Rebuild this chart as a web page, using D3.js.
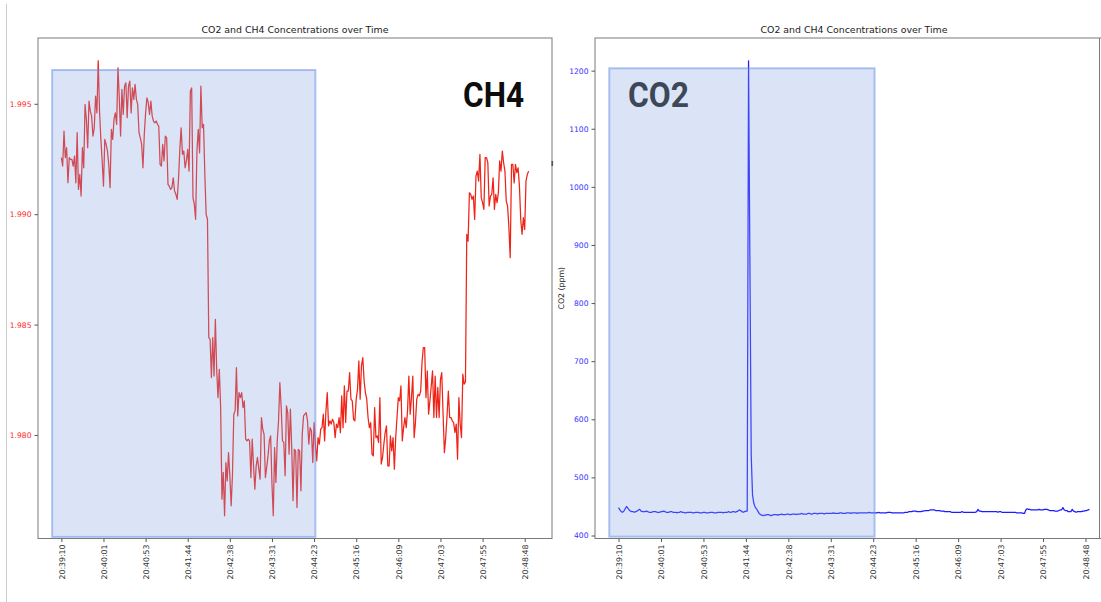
<!DOCTYPE html>
<html>
<head>
<meta charset="utf-8">
<script src="https://cdn.jsdelivr.net/npm/d3@7"></script>
<style>
  html, body { margin: 0; padding: 0; background: #fff; }
  svg { display: block; font-family: "DejaVu Sans", sans-serif; }
</style>
</head>
<body>
<svg id="chart" width="1101" height="602"></svg>
<script>
// Timestamp shown under every 32nd sample
const tickLabels = ["20:39:10", "20:40:01", "20:40:53", "20:41:44", "20:42:38", "20:43:31",
                    "20:44:23", "20:45:16", "20:46:09", "20:47:03", "20:47:55", "20:48:48"];
const tickEvery = 32;

// CH4 concentration (ppm), one value per sample
const ch4 = [
  1.99256,1.99218,1.99376,1.99256,1.99301,1.99142,1.99256,1.99248,1.99248,1.99218,
  1.99263,1.99142,1.99369,1.99112,1.99180,1.99082,1.99301,1.99210,1.99497,1.99429,
  1.99301,1.99512,1.99467,1.99444,1.99354,1.99391,1.99535,1.99459,1.99695,1.99467,
  1.99339,1.99241,1.99127,1.99339,1.99316,1.99286,1.99226,1.99120,1.99384,1.99339,
  1.99429,1.99459,1.99407,1.99663,1.99527,1.99354,1.99565,1.99452,1.99580,1.99595,
  1.99437,1.99580,1.99603,1.99459,1.99572,1.99520,1.99588,1.99520,1.99497,1.99369,
  1.99346,1.99316,1.99210,1.99361,1.99459,1.99527,1.99505,1.99452,1.99512,1.99444,
  1.99422,1.99414,1.99422,1.99407,1.99399,1.99226,1.99218,1.99316,1.99241,1.99354,
  1.99346,1.99135,1.99127,1.99112,1.99120,1.99165,1.99105,1.99090,1.99067,1.99158,
  1.99294,1.99391,1.99271,1.99286,1.99210,1.99241,1.99294,1.99195,1.99557,1.99572,
  1.99074,1.99045,1.98977,1.99286,1.99384,1.99278,1.99580,1.99391,1.99407,1.99180,
  1.98999,1.98977,
  1.98441,1.98433,1.98260,1.98441,1.98267,1.98524,1.98297,1.98169,1.98297,1.98124,
  1.97709,1.97830,1.97634,1.97875,1.97792,1.97920,1.97815,1.97679,1.97822,1.98094,
  1.98109,1.98305,1.98086,1.98192,1.98169,1.98192,1.98124,1.98154,1.97981,1.97973,
  1.97981,1.97973,1.97807,1.97981,1.97860,1.97754,1.97860,1.97898,1.97845,1.97800,
  1.98079,1.98026,1.98003,1.97807,1.97853,1.97905,1.97973,1.97996,1.97777,1.97634,
  1.97943,1.97785,1.97973,1.98064,1.98237,1.98124,1.97973,1.97966,1.97815,1.98132,
  1.98101,1.97913,1.98117,1.97943,1.97702,1.97935,1.97928,1.97671,1.97935,1.97928,
  1.97747,1.98003,1.98086,1.98094,1.98101,1.98064,1.97958,1.98033,1.98018,1.97875,
  1.98056,1.97958,1.97883,1.97988,1.97958,1.98026,1.98033,1.98094,1.97973,1.98109,
  1.98192,1.98041,1.98064,1.98049,1.98071,1.98056,1.97988,1.98049,1.98033,1.98079,
  1.98010,
  1.98177,1.98033,1.98222,1.98056,1.98199,1.98199,1.98282,1.98162,1.98154,1.98071,
  1.98064,1.98162,1.98207,1.98335,1.98162,1.98313,1.98350,1.98245,1.98192,1.98162,
  1.98079,1.98033,1.98056,1.97913,1.97905,1.98124,1.97988,1.97996,1.97966,1.98169,
  1.97868,1.97898,1.97958,1.98011,1.98041,1.97860,1.97860,1.97996,1.97928,1.97988,
  1.97845,1.97988,1.98079,1.98169,1.98154,1.98222,1.97973,1.98033,1.98079,1.98033,
  1.98109,1.98267,1.98094,1.98169,1.98267,1.97988,1.98056,1.98162,1.98184,1.98177,
  1.98199,1.98328,1.98396,1.98396,1.98169,1.98290,1.98094,1.98154,1.98222,1.98290,
  1.98079,1.98267,1.98079,1.98215,1.98079,1.98252,1.98282,1.98094,1.97920,1.97988,
  1.98086,1.98199,1.98079,1.98079,1.98064,1.98056,1.98011,1.98049,1.97890,1.98169,
  1.98049,1.97988,1.98275,1.98230,1.98240,
  1.98909,1.98878,1.99097,1.99090,1.99067,1.99082,1.98976,1.99173,1.99195,1.99150,
  1.99271,1.99075,1.99052,1.99022,1.99256,1.99256,1.99233,1.99037,1.99082,1.99090,
  1.99165,1.99022,1.99090,1.99052,1.99097,1.99241,1.99195,1.99286,1.99233,1.99195,
  1.99059,1.99037,1.98939,1.98803,1.99226,1.99226,1.99142,1.99226,1.99188,1.99210,
  1.99127,1.98976,1.98909,1.98984,1.98931,1.99150,1.99180,1.99195
];

// CO2 concentration (ppm), same samples
const co2 = [
  448,444,441,440,442,446,450,447,444,442,441,441,440,441,442,444,445,442,441,441,
  441,442,441,440,440,440,441,441,441,440,440,440,441,441,442,441,440,440,440,441,
  441,440,440,440,439,440,440,441,440,440,439,439,440,440,440,440,439,439,440,440,
  440,439,439,439,440,440,439,439,439,440,440,440,439,439,439,440,440,440,440,439,
  440,440,440,441,440,440,441,441,440,441,442,444,443,441,440,441,442,442,
  1217,880,540,470,455,449,446,442,438,436,435,434,
  435,435,436,436,435,434,435,436,436,436,435,436,436,437,436,436,436,437,437,436,
  436,437,437,437,436,437,437,437,438,437,437,437,437,438,438,437,437,438,438,438,
  437,438,438,438,438,437,438,438,438,438,438,438,439,438,438,438,438,439,439,438,
  438,438,439,439,439,438,439,439,439,439,438,439,439,439,439,439,439,439,439,440,
  439,439,439,439,439,439,440,439,439,439,439,439,439,440,440,440,439,439,439,439,
  439,439,439,439,439,439,440,440,440,441,441,441,442,442,442,441,441,441,441,442,
  442,443,443,443,443,444,444,444,444,443,443,443,443,442,442,442,441,441,441,441,
  441,440,440,440,440,440,440,440,440,441,440,440,440,440,440,440,440,440,440,440,
  441,445,442,442,441,441,441,441,441,441,441,441,441,441,441,441,440,441,441,440,
  440,440,440,440,440,440,440,440,440,440,439,439,439,439,439,438,438,444,446,445,
  445,444,444,444,444,444,444,445,444,444,444,445,445,445,444,443,443,443,443,442,
  442,442,443,444,444,448,444,443,443,441,441,441,445,442,441,440,441,441,441,441,
  442,442,443,443,444,445
];

// Shaded window: sample-index span and the value span it covers in each panel
const windowSpan = [-7, 193];
const ch4Window = [1.97538, 1.99653];
const co2Window = [398, 1204];

const ch4Ticks = [1.980, 1.985, 1.990, 1.995];
const co2Ticks = [400, 500, 600, 700, 800, 900, 1000, 1100, 1200];

const title = "CO2 and CH4 Concentrations over Time";

const svg = d3.select("#chart");

// thin frame line on the far left of the page
svg.append("line")
  .attr("x1", 6.5).attr("x2", 6.5).attr("y1", 4).attr("y2", 602)
  .attr("stroke", "#cccccc").attr("stroke-width", 1);

const panels = [
  {
    box: { l: 38, r: 552, t: 38, b: 538.5 },
    values: ch4, band: ch4Window, ticks: ch4Ticks, fmt: d3.format(".3f"),
    lineColor: "#ee2418", tickColor: "#ff2a2a",
    name: "CH4", nameColor: "#0d0d0d", nameAnchor: "end",
    yLabel: null
  },
  {
    box: { l: 595, r: 1113, t: 38, b: 538.5 },
    values: co2, band: co2Window, ticks: co2Ticks, fmt: d3.format("d"),
    lineColor: "#1c1cff", tickColor: "#3333ff",
    name: "CO2", nameColor: "#3d4757", nameAnchor: "start",
    yLabel: "CO2 (ppm)"
  }
];

panels.forEach(p => {
  const b = p.box;
  const n = p.values.length;
  const x = d3.scaleLinear()
    .domain([-0.05 * (n - 1), 1.05 * (n - 1)])
    .range([b.l, b.r]);
  const [lo, hi] = d3.extent(p.values);
  const pad = (hi - lo) * 0.05;
  const y = d3.scaleLinear().domain([lo - pad, hi + pad]).range([b.b, b.t]);

  const g = svg.append("g");

  // series line
  g.append("path")
    .datum(p.values)
    .attr("d", d3.line().x((d, i) => x(i)).y(d => y(d)))
    .attr("fill", "none")
    .attr("stroke", p.lineColor)
    .attr("stroke-width", 1.25)
    .attr("stroke-linejoin", "round");

  // translucent highlight window laid over the series
  g.append("rect")
    .attr("x", x(windowSpan[0]))
    .attr("y", y(p.band[1]))
    .attr("width", x(windowSpan[1]) - x(windowSpan[0]))
    .attr("height", y(p.band[0]) - y(p.band[1]))
    .attr("fill", "rgb(135,165,228)").attr("fill-opacity", 0.3)
    .attr("stroke", "rgb(100,140,232)").attr("stroke-opacity", 0.5)
    .attr("stroke-width", 2);

  // axes frame
  g.append("rect")
    .attr("x", b.l).attr("y", b.t)
    .attr("width", b.r - b.l).attr("height", b.b - b.t)
    .attr("fill", "none").attr("stroke", "#7a7a7a").attr("stroke-width", 1);

  // x axis: timestamps rotated upright
  const gx = g.append("g")
    .attr("transform", `translate(0,${b.b})`)
    .call(d3.axisBottom(x)
      .tickValues(d3.range(0, n, tickEvery))
      .tickFormat((d, i) => tickLabels[i])
      .tickSize(3.5));
  gx.select(".domain").remove();
  gx.selectAll(".tick line").attr("stroke", "#555");
  gx.selectAll("text")
    .attr("transform", "rotate(-90)")
    .attr("text-anchor", "end")
    .attr("x", -6).attr("y", 0).attr("dy", "0.35em")
    .attr("fill", "#333")
    .style("font-size", "7.8px")
    .style("font-family", "DejaVu Sans, sans-serif");

  // y axis
  const gy = g.append("g")
    .attr("transform", `translate(${b.l},0)`)
    .call(d3.axisLeft(y).tickValues(p.ticks).tickFormat(p.fmt).tickSize(3.5).tickPadding(3));
  gy.select(".domain").remove();
  gy.selectAll(".tick line").attr("stroke", "#555");
  gy.selectAll("text")
    .attr("fill", p.tickColor)
    .style("font-size", "7.6px")
    .style("font-family", "DejaVu Sans, sans-serif");

  // title
  g.append("text")
    .attr("x", (b.l + b.r) / 2).attr("y", b.t - 5)
    .attr("text-anchor", "middle")
    .attr("fill", "#222")
    .style("font-size", "9.4px")
    .text(title);

  if (p.yLabel) {
    g.append("text")
      .attr("transform", `translate(${b.l - 31},${(b.t + b.b) / 2}) rotate(-90)`)
      .attr("text-anchor", "middle")
      .attr("fill", "#222")
      .style("font-size", "7.8px")
      .text(p.yLabel);
  }

  // big gas name inside the plot
  g.append("text")
    .attr("x", p.nameAnchor === "end" ? b.r - 28 : b.l + 33)
    .attr("y", b.t + 69)
    .attr("text-anchor", p.nameAnchor)
    .attr("fill", p.nameColor)
    .attr("textLength", 61)
    .attr("lengthAdjust", "spacingAndGlyphs")
    .style("font-family", "Roboto, sans-serif")
    .style("font-weight", 700)
    .style("font-size", "35px")
    .text(p.name);
});

// thin frame line closing the right edge of the page
svg.append("line")
  .attr("x1", 1099.5).attr("x2", 1099.5).attr("y1", 38).attr("y2", 538.5)
  .attr("stroke", "#7a7a7a").attr("stroke-width", 1);

// small stray mark just right of the left panel
svg.append("rect")
  .attr("x", 551.5).attr("y", 161).attr("width", 1.6).attr("height", 5)
  .attr("fill", "#555");
</script>
</body>
</html>
